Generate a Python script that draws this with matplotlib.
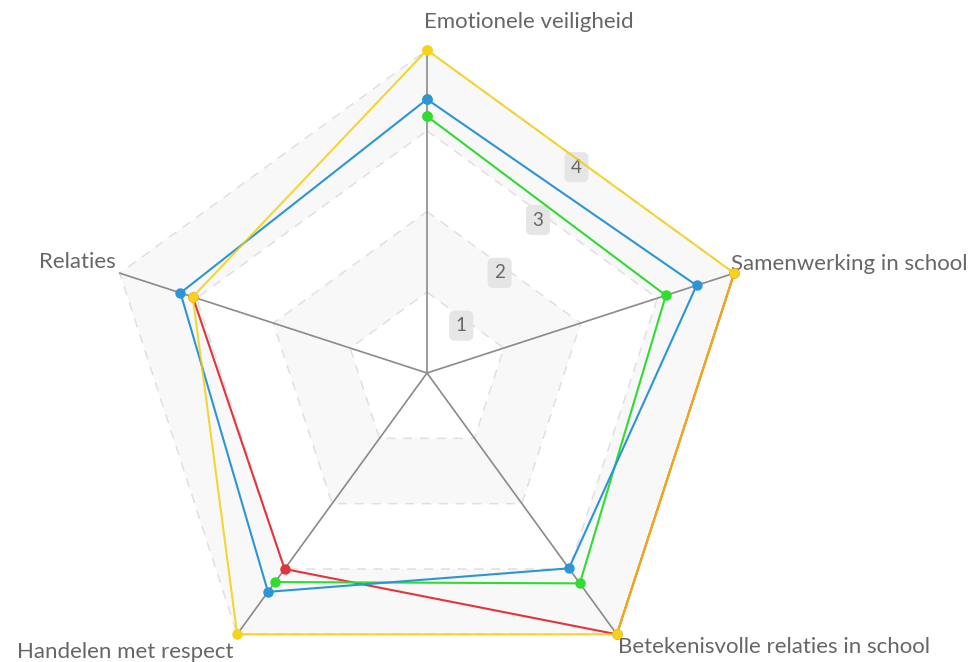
import numpy as np
import matplotlib
matplotlib.use("Agg")
import matplotlib.pyplot as plt

# ── data ────────────────────────────────────────────────────────────────────
categories = [
    "Emotionele veiligheid",
    "Samenwerking in school",
    "Betekenisvolle relaties in school",
    "Handelen met respect",
    "Relaties",
]
tick_values = [1, 2, 3, 4]

series_red = [np.nan, 4.0, 4.0, 3.0, 3.05]
series_green = [3.18, 3.11, 3.22, 3.20, np.nan]
series_blue = [3.39, 3.51, 2.99, 3.35, 3.21]
series_yellow = [4.0, 4.0, 4.0, 4.0, 3.05]

# ── style ───────────────────────────────────────────────────────────────────
TEXT = "#666666"
FONT = ["Lato", "DejaVu Sans"]
plt.rcParams["font.family"] = FONT

n = len(categories)
theta = np.arange(n) * 2 * np.pi / n
theta_c = np.append(theta, theta[0])


def closed(vals):
    return np.append(vals, vals[0])


fig = plt.figure(figsize=(9.68, 6.62), dpi=100)
# polar axes centred at (427, 373) px with radius 323 px
ax = fig.add_axes([104 / 968, (662 - 373 - 323) / 662, 646 / 968, 646 / 662],
                  projection="polar")
ax.set_theta_offset(np.pi / 2)
ax.set_theta_direction(-1)
ax.set_ylim(0, 4)
ax.set_xticks([])
ax.set_yticks([])
ax.grid(False)
ax.spines["polar"].set_visible(False)
ax.patch.set_visible(False)

# alternating bands (1-2 and 3-4 shaded)
for lo, hi in [(1, 2), (3, 4)]:
    outer = [hi] * (n + 1)
    inner = [lo] * (n + 1)
    ax.fill(np.concatenate([theta_c, theta_c[::-1]]),
            np.concatenate([outer, inner[::-1]]),
            color="#f8f8f8", lw=0, zorder=1, clip_on=False)

# dashed grid pentagons
for v in tick_values:
    ax.plot(theta_c, [v] * (n + 1), color="#e0e0e0", lw=1.1,
            ls=(0, (6, 5)), zorder=2, clip_on=False)

# spokes
for t in theta:
    ax.plot([t, t], [0, 4], color="#8a8a8a", lw=1.2, zorder=3, clip_on=False)

# tick labels along the bisector between the first two spokes
t_lab = np.pi / n
for v in tick_values:
    ax.annotate(str(v), (t_lab, v * np.cos(np.pi / n)),
                xytext=(-3, -4), textcoords="offset points",
                ha="center", va="center", fontsize=13.5, color=TEXT,
                bbox=dict(boxstyle="round,pad=0.35,rounding_size=0.3",
                          fc="#e2e2e2", ec="none", alpha=0.85),
                zorder=4)

# data series
line_kw = dict(lw=1.5, marker="o", markersize=6.5, zorder=5, clip_on=False)
ax.plot(theta_c, closed(series_red), color="#e2353b", **line_kw)
ax.plot(theta_c, closed(series_green), color="#2fdc2f", **line_kw)
ax.plot(theta_c, closed(series_blue), color="#2b95d6", **line_kw)
ax.plot(theta_c, closed(series_yellow), color="#f3cc00", alpha=0.78,
        lw=1.5, zorder=6, clip_on=False)
ax.plot(theta_c, closed(series_yellow), color="#f6d21a", lw=0,
        marker="o", markersize=6.5, zorder=7, clip_on=False)

# category labels at the outer vertices
label_pos = [
    ((-3, 28), "left", "center"),
    ((-3, 9), "left", "center"),
    ((1, -13), "left", "center"),
    ((-4, -18), "right", "center"),
    ((-4, 11), "right", "center"),
]
for t, name, (off, ha, va) in zip(theta, categories, label_pos):
    ax.annotate(name, (t, 4), xytext=(off[0] * 0.72, off[1] * 0.72),
                textcoords="offset points", ha=ha, va=va,
                fontsize=16, color=TEXT, annotation_clip=False)

fig.savefig("out.png", dpi=100, facecolor="white")
